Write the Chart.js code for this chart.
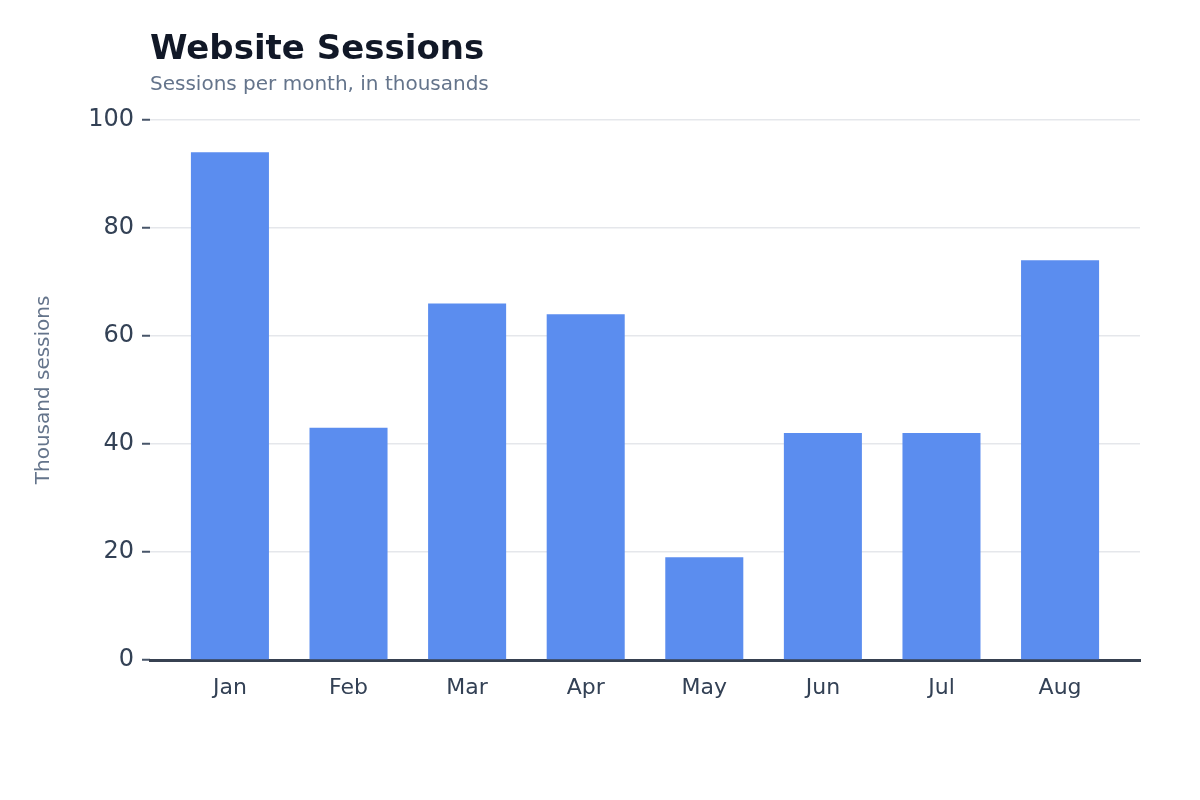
<!DOCTYPE html>
<html>
<head>
<meta charset="utf-8">
<script src="https://cdn.jsdelivr.net/npm/chart.js@4"></script>
<style>
  html, body { margin: 0; padding: 0; background: #ffffff; }
  #wrap { width: 1200px; height: 800px; }
</style>
</head>
<body>
<div id="wrap"><canvas id="sessionsChart"></canvas></div>
<script>
const months = ['Jan', 'Feb', 'Mar', 'Apr', 'May', 'Jun', 'Jul', 'Aug'];
const sessions = [94, 43, 66, 64, 19, 42, 42, 74];
const yTicks = [0, 20, 40, 60, 80, 100];

const FONT = "'DejaVu Sans', sans-serif";
// extra room either side of the first/last category, in category units
const X_PAD = 0.674;

function createSessionsChart() {
  const ctx = document.getElementById('sessionsChart').getContext('2d');
  const points = sessions.map((v, i) => ({ x: i, y: v }));
  return new Chart(ctx, {
    type: 'bar',
    data: {
      datasets: [{
        label: 'Sessions (thousands)',
        data: points,
        backgroundColor: '#5b8def',
        borderWidth: 0,
        categoryPercentage: 1,
        barPercentage: 0.658
      }]
    },
    options: {
      responsive: true,
      maintainAspectRatio: false,
      animation: false,
      devicePixelRatio: 1,
      layout: { padding: { top: 10, right: 60, bottom: 90, left: 0 } },
      plugins: {
        legend: { display: false },
        tooltip: { enabled: false },
        title: {
          display: true,
          text: 'Website Sessions',
          align: 'start',
          fullSize: false,
          color: '#111827',
          font: { family: FONT, size: 34, weight: 'bold' },
          padding: { top: 20, bottom: 2 }
        },
        subtitle: {
          display: true,
          text: 'Sessions per month, in thousands',
          align: 'start',
          fullSize: false,
          color: '#64748b',
          font: { family: FONT, size: 20 },
          padding: { top: 0, bottom: 23 }
        }
      },
      scales: {
        x: {
          type: 'linear',
          offset: false,
          min: -X_PAD,
          max: months.length - 1 + X_PAD,
          afterBuildTicks: (scale) => {
            scale.ticks = months.map((m, i) => ({ value: i }));
          },
          grid: { display: false, drawTicks: false },
          border: { display: true, color: '#374151', width: 3 },
          ticks: {
            color: '#334155',
            font: { family: FONT, size: 22 },
            padding: 15,
            callback: (val) => months[val]
          },
          afterFit: (scale) => { scale.height = 50; }
        },
        y: {
          min: 0,
          max: 100,
          afterBuildTicks: (scale) => {
            scale.ticks = yTicks.map(v => ({ value: v }));
          },
          grid: {
            color: '#e5e7eb',
            lineWidth: 1.5,
            tickColor: '#475569',
            tickLength: 8,
            tickWidth: 2
          },
          border: { display: false },
          ticks: {
            color: '#334155',
            font: { family: FONT, size: 24 },
            padding: 8
          },
          title: {
            display: true,
            text: 'Thousand sessions',
            color: '#64748b',
            font: { family: FONT, size: 20 },
            padding: { top: 32, bottom: 0 }
          },
          afterFit: (scale) => { scale.width = 150; }
        }
      }
    }
  });
}

document.addEventListener('DOMContentLoaded', () => {
  createSessionsChart();
});
</script>
</body>
</html>
